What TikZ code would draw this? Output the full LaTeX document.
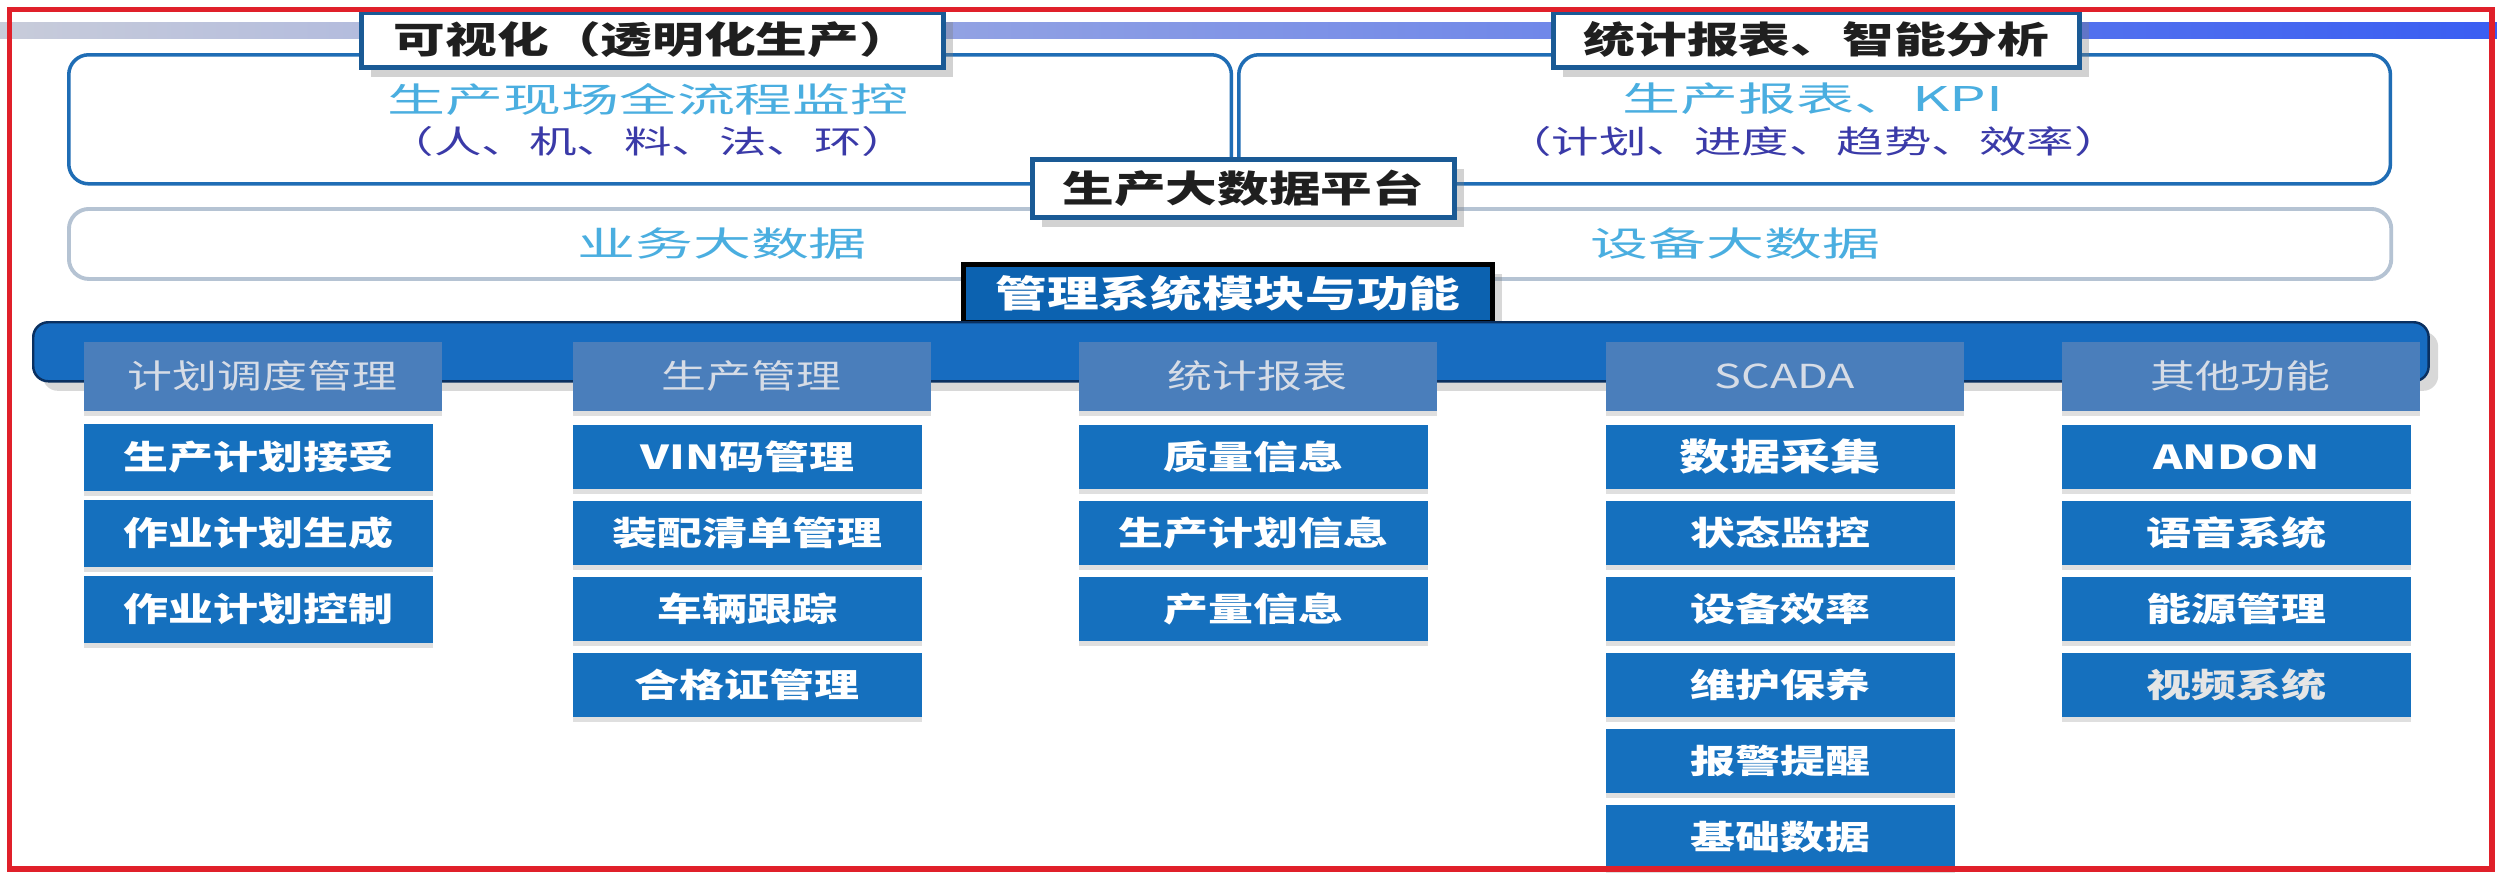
\documentclass[tikz,border=0pt]{standalone}
\usepackage{fontspec}
\setmainfont{Noto Sans CJK SC}
\newfontfamily\fItem{Noto Sans CJK SC}[FakeStretch=1.36]
\newfontfamily\fTitle{Noto Sans CJK SC}[FakeStretch=1.4]
\newfontfamily\fBig{Noto Sans CJK SC}[FakeStretch=1.7]
\newfontfamily\fSub{Noto Sans CJK SC}[FakeStretch=1.5]
\usetikzlibrary{shadows}
\definecolor{redb}{HTML}{E0202A}
\definecolor{bandL}{HTML}{C8CCDA}
\definecolor{bandR}{HTML}{3A5EF2}
\definecolor{panelb}{HTML}{1F6DB5}
\definecolor{lightb}{HTML}{B5C3D3}
\definecolor{tbord}{HTML}{1A5A95}
\definecolor{cyant}{HTML}{4AAEE0}
\definecolor{indt}{HTML}{3A3AA8}
\definecolor{mgfill}{HTML}{0C62B0}
\definecolor{barfill}{HTML}{176CC0}
\definecolor{bardark}{HTML}{0A3060}
\definecolor{hdrblue}{HTML}{4A7EBB}
\definecolor{hdrtext}{HTML}{D6DCE6}
\definecolor{itemblue}{HTML}{1570BE}
\newcommand\myfs[1]{\fontsize{#1}{#1}\selectfont}
\begin{document}
\begin{tikzpicture}[x=0.01cm,y=-0.01cm,
  panel/.style={draw=panelb, line width=1pt, rounded corners=0.2cm, anchor=north west, inner sep=0},
  lightpanel/.style={draw=lightb, line width=1.1pt, rounded corners=0.2cm, anchor=north west, inner sep=0},
  titlebox/.style={draw=tbord, line width=1.3pt, fill=white, drop shadow={opacity=0.35}, anchor=north west, inner sep=0, text=black!88, font=\fTitle\myfs{10.5}\bfseries},
  mgbox/.style={draw=black, line width=1.3pt, fill=mgfill, anchor=north west, inner sep=0, text=white, font=\fTitle\myfs{10.5}\bfseries, drop shadow={opacity=0.3}},
  hdr/.style={fill=hdrblue, text=hdrtext, font=\fItem\myfs{9.4}, minimum width=3.58cm, minimum height=0.69cm, anchor=north west, inner sep=0, drop shadow={opacity=0.25, shadow xshift=0pt, shadow yshift=-1.5pt}},
  item/.style={fill=itemblue, text=white, font=\fItem\myfs{9.4}\bfseries, minimum width=3.49cm, minimum height=0.64cm, anchor=north west, inner sep=0, drop shadow={opacity=0.25, shadow xshift=0pt, shadow yshift=-1.5pt}},
  itemA/.style={item, minimum height=0.67cm},
  bigt/.style={font=\fBig\myfs{9.7}, text=cyant, inner sep=0},
  subt/.style={font=\fSub\myfs{9}, text=indt, inner sep=0}
]
\useasboundingbox (0,0) rectangle (2497,872);
\fill[white] (0,0) rectangle (2497,872);
% top band
\shade[left color=bandL, right color=bandR] (0,22) rectangle (2497,38);
% panels
\node[panel, minimum width=11.62cm, minimum height=1.29cm] (pl) at (67,53) {};
\node[panel, minimum width=11.51cm, minimum height=1.29cm] (pr) at (1237,53) {};
\node[lightpanel, minimum width=23.21cm, minimum height=0.70cm] (lp) at (67,207) {};
% panel texts
\node[bigt] (t1a) at (648,99) {生产现场全流程监控};
\node[subt] (t1b) at (648,141) {（人、机、料、法、环）};
\node[bigt] (t2a) at (1813,99) {生产报表、KPI};
\node[subt] (t2b) at (1813,141) {（计划、进度、趋势、效率）};
\node[bigt] (d1) at (722,244) {业务大数据};
\node[bigt] (d2) at (1735,244) {设备大数据};
% title boxes
\node[titlebox, minimum width=5.82cm, minimum height=0.55cm] (tb1) at (359,10) {可视化（透明化生产）};
\node[titlebox, minimum width=5.26cm, minimum height=0.55cm] (tb2) at (1551,10) {统计报表、智能分析};
\node[titlebox, minimum width=4.22cm, minimum height=0.58cm] (pf) at (1030,157) {生产大数据平台};
\node[mgbox, minimum width=5.29cm, minimum height=0.58cm] (mg) at (961,262) {管理系统模块与功能};
% bar
\node[draw=bardark, line width=0.7pt, fill=barfill, rounded corners=0.15cm, anchor=north west, inner sep=0,
  minimum width=23.94cm, minimum height=0.59cm, drop shadow={opacity=0.3}] (bar) at (32,321) {};
% headers
\node[hdr] (h1) at (83,341) {计划调度管理};
\node[hdr] (h2) at (572,341) {生产管理};
\node[hdr] (h3) at (1078,341) {统计报表};
\node[hdr] (h4) at (1605,341) {SCADA};
\node[hdr] (h5) at (2061,341) {其他功能};
% column 1
\node[itemA] (a1) at (83,423) {生产计划接受};
\node[itemA] (a2) at (83,499) {作业计划生成};
\node[itemA] (a3) at (83,575) {作业计划控制};
% column 2
\node[item] (b1) at (572,424) {VIN码管理};
\node[item] (b2) at (572,500) {装配清单管理};
\node[item] (b3) at (572,576) {车辆跟踪};
\node[item] (b4) at (572,652) {合格证管理};
% column 3
\node[item] (c1) at (1078,424) {质量信息};
\node[item] (c2) at (1078,500) {生产计划信息};
\node[item] (c3) at (1078,576) {产量信息};
% column 4
\node[item, font=\fItem\myfs{10.5}\bfseries] (e1) at (1605,424) {数据采集};
\node[item] (e2) at (1605,500) {状态监控};
\node[item] (e3) at (1605,576) {设备效率};
\node[item] (e4) at (1605,652) {维护保养};
\node[item] (e5) at (1605,728) {报警提醒};
\node[item] (e6) at (1605,804) {基础数据};
% column 5
\node[item] (f1) at (2061,424) {ANDON};
\node[item] (f2) at (2061,500) {语音系统};
\node[item] (f3) at (2061,576) {能源管理};
\node[item, text=white!80!gray] (f4) at (2061,652) {视频系统};
% red frame
\draw[redb, line width=1.5pt] (9.5,9.5) rectangle (2492,869);
\end{tikzpicture}
\end{document}
